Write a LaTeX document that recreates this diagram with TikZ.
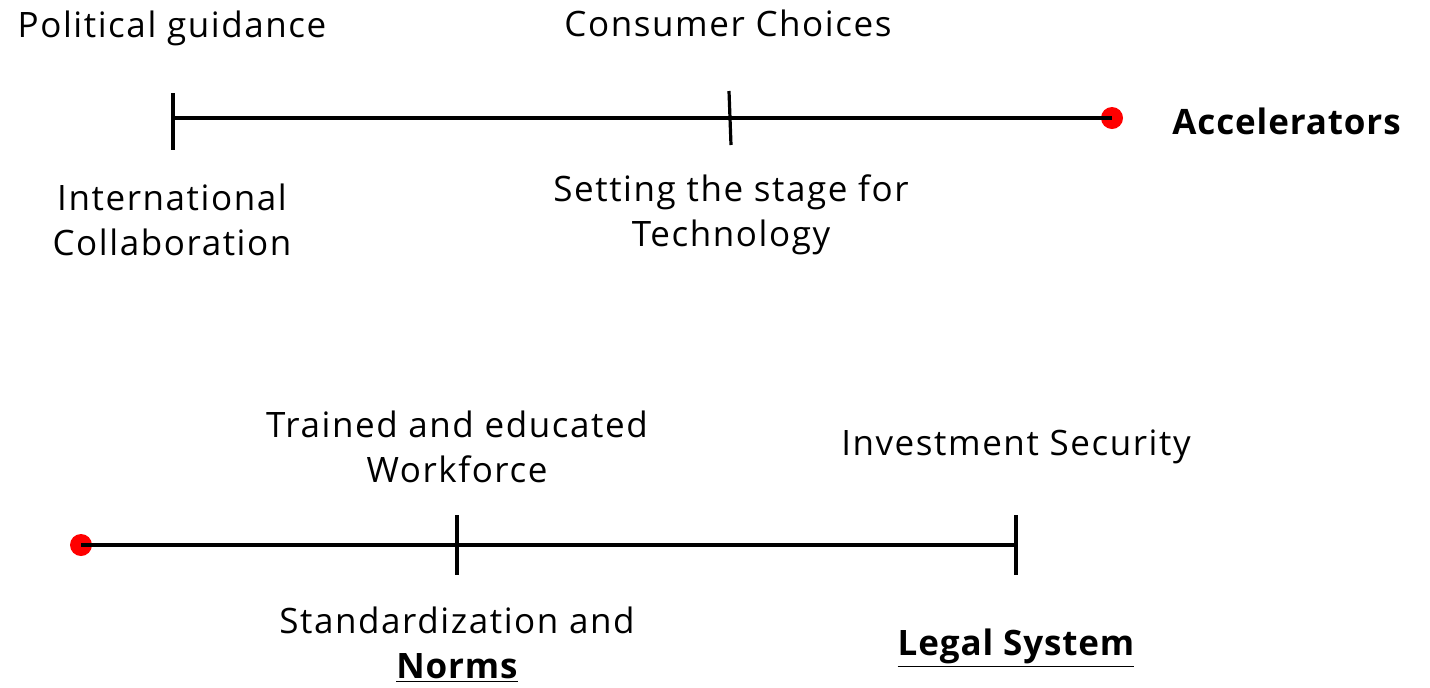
\documentclass[tikz,border=0pt]{standalone}
\usepackage{fontspec}
\setmainfont[LetterSpace=4.5, BoldFeatures={LetterSpace=2.5}]{Open Sans}
\begin{document}
\begin{tikzpicture}[x=0.5pt,y=-0.5pt,
  lbl/.style={font=\fontsize{17.5}{22.5}\selectfont, align=center, inner sep=0pt},
  blbl/.style={lbl, font=\fontsize{17.5}{22.5}\selectfont\bfseries},
  axis/.style={line width=2pt, black},
  tick/.style={line width=1.6pt, black},
  reddot/.style={circle, fill=red, inner sep=0pt, minimum size=11pt}]
\useasboundingbox (0,0) rectangle (1430,687);
% top timeline
\node[reddot] (d1) at (1112,118) {};
\coordinate (t1a) at (173,93); \coordinate (t1b) at (173,150); \coordinate (t1m) at (173,118);
\coordinate (t2a) at (729,91); \coordinate (t2b) at (731,145);
\draw[axis] (t1m) -- (d1.center);
\draw[tick] (t1a) -- (t1b);
\draw[tick] (t2a) -- (t2b);
\node[lbl] (pg) at (172,28) {Political guidance};
\node[lbl] (cc) at (728,23) {Consumer Choices};
\node[lbl] (ic) at (172,220) {International\\Collaboration};
\node[lbl] (st) at (731,215) {Setting the stage for\\Technology};
\node[blbl, anchor=west] (acc) at (1172,121) {Accelerators};
% bottom timeline
\node[reddot] (d2) at (81,545) {};
\coordinate (b1a) at (457,515); \coordinate (b1b) at (457,575);
\coordinate (b2a) at (1016,515); \coordinate (b2b) at (1016,575); \coordinate (b2m) at (1016,545);
\draw[axis] (d2.center) -- (b2m);
\draw[tick] (b1a) -- (b1b);
\draw[tick] (b2a) -- (b2b);
\node[lbl] (tw) at (457,447) {Trained and educated\\Workforce};
\node[lbl] (is) at (1016,447) {Investment Security};
\node[lbl] (sn) at (457,645) {Standardization and\\\textbf{\underline{Norms}}};
\node[blbl] (ls) at (1016,648) {\underline{Legal System}};
\end{tikzpicture}
\end{document}
